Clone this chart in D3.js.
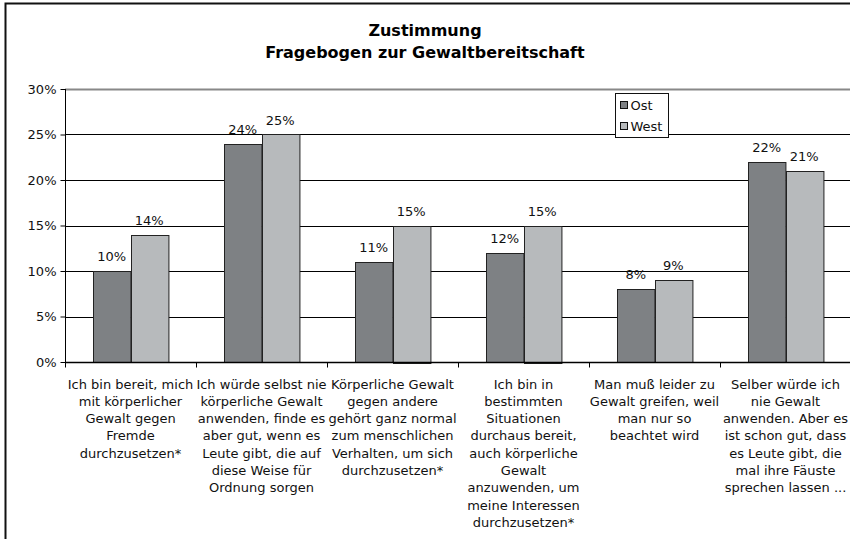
<!DOCTYPE html>
<html>
<head>
<meta charset="utf-8">
<script src="https://cdn.jsdelivr.net/npm/d3@7"></script>
<style>
  html, body { margin: 0; background: #fff; overflow: hidden; }
  svg { display: block; font-family: "DejaVu Sans", Verdana, sans-serif; }
</style>
</head>
<body>
<div id="chart"></div>
<script>
// chart data
const categories = [
	["Ich bin bereit, mich", "mit körperlicher", "Gewalt gegen", "Fremde", "durchzusetzen*"],
	["Ich würde selbst nie", "körperliche Gewalt", "anwenden, finde es", "aber gut, wenn es", "Leute gibt, die auf", "diese Weise für", "Ordnung sorgen"],
	["Körperliche Gewalt", "gegen andere", "gehört ganz normal", "zum menschlichen", "Verhalten, um sich", "durchzusetzen*"],
	["Ich bin in", "bestimmten", "Situationen", "durchaus bereit,", "auch körperliche", "Gewalt", "anzuwenden, um", "meine Interessen", "durchzusetzen*"],
	["Man muß leider zu", "Gewalt greifen, weil", "man nur so", "beachtet wird"],
	["Selber würde ich", "nie Gewalt", "anwenden. Aber es", "ist schon gut, dass", "es Leute gibt, die", "mal ihre Fäuste", "sprechen lassen ..."]
];
const seriesNames = ["Ost", "West"];
const ost = [10, 24, 11, 12, 8, 22];
const west = [14, 25, 15, 15, 9, 21];
const yTicks = [0, 5, 10, 15, 20, 25, 30];
const titleLines = ["Zustimmung", "Fragebogen zur Gewaltbereitschaft"];

const colors = {Ost: "#7e8184", West: "#b7babc"};

const W = 850, H = 539;
const margin = {top: 89, left: 65, right: -1, bottom: 177};
const width = W - margin.left - margin.right;
const height = H - margin.top - margin.bottom;

const svg = d3.select("#chart").append("svg")
	.attr("width", W)
	.attr("height", H);

// outer chart border: only left and top edges are inside the picture
svg.append("path")
	.attr("d", "M5.5," + (H + 5) + "V3.5H" + (W + 5))
	.attr("fill", "none")
	.attr("stroke", "#111")
	.attr("stroke-width", 2);

// title
svg.append("text")
	.attr("x", 425).attr("y", 36)
	.attr("text-anchor", "middle")
	.attr("font-size", 16).attr("font-weight", "bold")
	.selectAll("tspan")
	.data(titleLines)
	.enter().append("tspan")
	.attr("x", 425)
	.attr("dy", (d, i) => i === 0 ? 0 : 22)
	.text(d => d);

const g = svg.append("g")
	.attr("transform", "translate(" + margin.left + "," + margin.top + ")");

const idx = d3.range(categories.length);
const x0 = d3.scaleBand()
	.domain(idx)
	.range([0, width])
	.paddingInner(0)
	.paddingOuter(0);

const x1 = d3.scaleBand()
	.domain(seriesNames)
	.range([0, x0.bandwidth()])
	.paddingInner(0)
	.paddingOuter(0.75);

const y = d3.scaleLinear()
	.domain([0, 30])
	.range([height, 0]);

// gridlines
g.selectAll(".grid")
	.data(yTicks.filter(t => t > 0))
	.enter().append("line")
	.attr("x1", 0).attr("x2", width + 5)
	.attr("y1", d => Math.round(y(d)) + 0.5)
	.attr("y2", d => Math.round(y(d)) + 0.5)
	.attr("stroke", d => d === 30 ? "#888" : "#000")
	.attr("stroke-width", d => d === 30 ? 2 : 1);

// bars
const rows = idx.map(i => ({i: i, values: [{key: "Ost", v: ost[i]}, {key: "West", v: west[i]}]}));

const groups = g.selectAll(".group")
	.data(rows)
	.enter().append("g")
	.attr("transform", d => "translate(" + x0(d.i) + ",0)");

groups.selectAll("rect")
	.data(d => d.values)
	.enter().append("rect")
	.attr("x", d => Math.round(x1(d.key)) + 0.5)
	.attr("y", d => Math.round(y(d.v)) + 0.5)
	.attr("width", x1.bandwidth())
	.attr("height", d => Math.round(height - y(d.v)))
	.attr("fill", d => colors[d.key])
	.attr("stroke", "#222")
	.attr("stroke-width", 1);

groups.selectAll(".val")
	.data(d => d.values)
	.enter().append("text")
	.attr("x", d => x1(d.key) + x1.bandwidth() / 2)
	.attr("y", d => y(d.v) - 10)
	.attr("text-anchor", "middle")
	.attr("font-size", 13)
	.attr("fill", "#111")
	.text(d => d.v + "%");

// y axis
const yAxis = g.append("g")
	.attr("transform", "translate(0.5,0)")
	.call(d3.axisLeft(y).tickValues(yTicks).tickSize(5).tickFormat(d => d + "%"));
yAxis.select(".domain").attr("stroke", "#000").attr("d", "M0," + y(30) + "V" + height);
yAxis.selectAll("text").attr("font-size", 13).attr("fill", "#111")
	.attr("font-family", "DejaVu Sans, sans-serif").attr("x", -9);

// x axis
const xAxis = g.append("g")
	.attr("transform", "translate(0," + (height + 0.5) + ")");
xAxis.append("line")
	.attr("x1", 0).attr("x2", width + 5)
	.attr("stroke", "#000").attr("stroke-width", 1.5);
xAxis.selectAll(".tick")
	.data(d3.range(categories.length))
	.enter().append("line")
	.attr("x1", d => Math.round(d * x0.step()) + 0.5)
	.attr("x2", d => Math.round(d * x0.step()) + 0.5)
	.attr("y1", 0).attr("y2", 5)
	.attr("stroke", "#000");

// category labels
xAxis.selectAll(".cat")
	.data(rows)
	.enter().append("text")
	.attr("text-anchor", "middle")
	.attr("font-size", 13)
	.attr("fill", "#111")
	.attr("transform", d => "translate(" + (x0(d.i) + x0.bandwidth() / 2) + ",26)")
	.selectAll("tspan")
	.data(d => categories[d.i])
	.enter().append("tspan")
	.attr("x", 0)
	.attr("y", (d, i) => i * 17.3)
	.text(d => d);

// legend
const legend = svg.append("g")
	.attr("transform", "translate(615.5,93.5)");
legend.append("rect")
	.attr("width", 53).attr("height", 44)
	.attr("fill", "#fff").attr("stroke", "#111");
const items = legend.selectAll(".item")
	.data(seriesNames)
	.enter().append("g")
	.attr("transform", (d, i) => "translate(5," + (8 + i * 21) + ")");
items.append("rect")
	.attr("width", 7).attr("height", 7)
	.attr("fill", d => colors[d])
	.attr("stroke", "#111");
items.append("text")
	.attr("x", 10).attr("y", 8)
	.attr("font-size", 13)
	.attr("fill", "#111")
	.text(d => d);
</script>
</body>
</html>
